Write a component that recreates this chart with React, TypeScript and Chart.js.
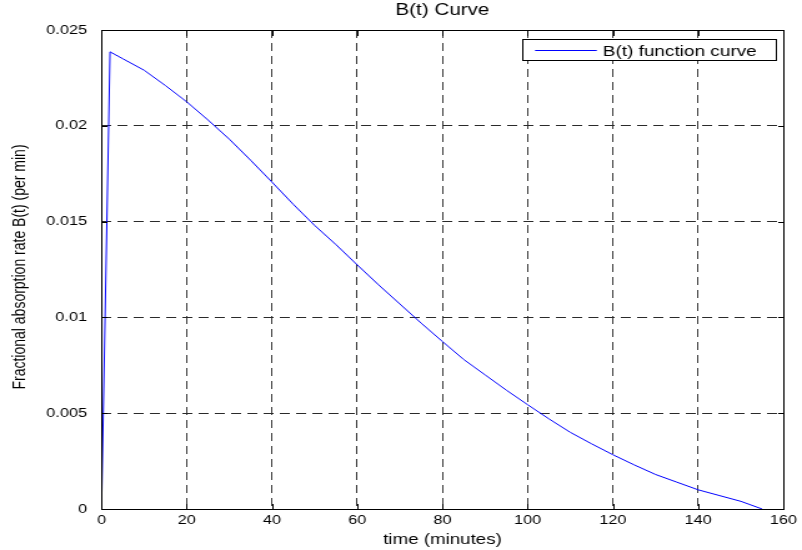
import { useEffect, useRef } from "react";
import { Chart, registerables } from "chart.js";

Chart.register(...registerables);

// ---- data ----
const timeMinutes = [0, 2, 5, 10, 15, 20, 25, 30, 35, 40, 45, 50, 55, 60, 65, 70, 75, 80, 85, 90, 95, 100, 105, 110, 115, 120, 125, 130, 135, 140, 145, 150, 155];
const absorptionRate = [0, 0.02386, 0.0235, 0.0229, 0.0221, 0.02125, 0.0203, 0.0193, 0.0182, 0.01706, 0.0159, 0.0148, 0.0138, 0.01274, 0.0117, 0.0107, 0.0097, 0.00874, 0.0078, 0.007, 0.0062, 0.00544, 0.0047, 0.004, 0.0034, 0.00283, 0.0023, 0.0018, 0.0014, 0.001, 0.0007, 0.0004, 0];
const xTickValues = [0, 20, 40, 60, 80, 100, 120, 140, 160];
const yTickValues = [0, 0.005, 0.01, 0.015, 0.02, 0.025];
const yTickLabels = ["0", "0.005", "0.01", "0.015", "0.02", "0.025"];
const titleText = "B(t) Curve";
const xAxisLabel = "time (minutes)";
const yAxisLabel = "Fractional absorption rate B(t) (per min)";
const legendLabel = "B(t) function curve";

// internal canvas is narrower and stretched horizontally by CSS
const CSS_W = 802;
const CSS_H = 550;
const SX = 1.2492;
const W = Math.round(CSS_W / SX);
const H = CSS_H;
const FONT = '"Liberation Sans", Arial, Helvetica, sans-serif';

const decorPlugin = {
  id: "matlabDecor",
  afterDraw(chart: any) {
    const ctx: CanvasRenderingContext2D = chart.ctx;
    const area = chart.chartArea;
    const xs = chart.scales.x;
    const ys = chart.scales.y;
    const L = Math.round(area.left);
    const R = Math.round(area.right);
    const T = Math.round(area.top);
    const B = Math.round(area.bottom);
    ctx.save();
    ctx.fillStyle = "#000000";
    // axes box
    ctx.fillRect(L, T, R - L + 1, 1);
    ctx.fillRect(L, B, R - L + 1, 1);
    ctx.fillRect(L, T, 1, B - T + 1);
    ctx.fillRect(R, T, 1, B - T + 1);
    // inward ticks on all sides
    xTickValues.forEach((v) => {
      const px = Math.round(xs.getPixelForValue(v));
      ctx.fillRect(px, B - 5, 1, 5);
      ctx.fillRect(px, T, 1, 6);
    });
    yTickValues.forEach((v) => {
      const py = Math.round(ys.getPixelForValue(v));
      ctx.fillRect(L, py, 5, 1);
      ctx.fillRect(R - 4, py, 5, 1);
    });

    // title
    ctx.textAlign = "center";
    ctx.textBaseline = "alphabetic";
    ctx.font = `16.5px ${FONT}`;
    ctx.fillText(titleText, (area.left + area.right) / 2, 14.5);
    // x label
    ctx.font = `15px ${FONT}`;
    ctx.fillText(xAxisLabel, (area.left + area.right) / 2, 544);
    // y label
    ctx.save();
    ctx.translate(20, 267);
    ctx.rotate(-Math.PI / 2);
    ctx.font = `14px ${FONT}`;
    ctx.fillText(yAxisLabel, 0, 0);
    ctx.restore();

    // legend
    const lx = 418;
    const ly = 39;
    const lw = 204;
    const lh = 22;
    ctx.fillStyle = "#ffffff";
    ctx.fillRect(lx, ly, lw, lh);
    ctx.fillStyle = "#000000";
    ctx.fillRect(lx, ly, lw, 1);
    ctx.fillRect(lx, ly + lh - 1, lw, 1);
    ctx.fillRect(lx, ly, 1, lh);
    ctx.fillRect(lx + lw - 1, ly, 1, lh);
    ctx.fillStyle = "#0000ff";
    ctx.fillRect(428.3, 50, 49.4, 1);
    ctx.fillStyle = "#000000";
    ctx.textAlign = "left";
    ctx.font = `15.2px ${FONT}`;
    ctx.fillText(legendLabel, 482.5, 55.5);
    ctx.restore();
  },
};

export default function App() {
  const canvasRef = useRef<HTMLCanvasElement | null>(null);

  useEffect(() => {
    document.body.style.margin = "0";
    const canvas = canvasRef.current;
    if (!canvas) return;
    const chart = new Chart(canvas, {
      type: "line",
      data: {
        datasets: [
          {
            label: legendLabel,
            data: timeMinutes.map((t, i) => ({ x: t, y: absorptionRate[i] })),
            borderColor: "#0000ff",
            borderWidth: 1,
            pointRadius: 0,
            tension: 0,
            fill: false,
          },
        ],
      },
      options: {
        responsive: false,
        devicePixelRatio: 1,
        animation: false,
        layout: { padding: { left: 0, right: 14, top: 30, bottom: 0 } },
        plugins: {
          legend: { display: false },
          title: { display: false },
          tooltip: { enabled: false },
        },
        scales: {
          x: {
            type: "linear",
            min: 0,
            max: 160,
            afterBuildTicks: (s: any) => {
              s.ticks = xTickValues.map((v) => ({ value: v }));
            },
            afterFit: (s: any) => {
              s.height = 41;
            },
            ticks: {
              autoSkip: false,
              maxRotation: 0,
              padding: 4,
              color: "#000",
              font: { family: FONT, size: 13 },
              callback: (v: any) => String(v),
            },
            grid: { color: "#3a3a3a", lineWidth: 1, drawTicks: false },
            border: { display: false, dash: [8, 5] },
          },
          y: {
            type: "linear",
            min: 0,
            max: 0.025,
            afterBuildTicks: (s: any) => {
              s.ticks = yTickValues.map((v) => ({ value: v }));
            },
            afterFit: (s: any) => {
              s.width = 81.25;
            },
            ticks: {
              autoSkip: false,
              padding: 11.6,
              color: "#000",
              font: { family: FONT, size: 13 },
              callback: (_v: any, i: number) => yTickLabels[i],
            },
            grid: { color: "#2a2a2a", lineWidth: 1, drawTicks: false },
            border: { display: false, dash: [8, 5] },
          },
        },
      } as any,
      plugins: [decorPlugin],
    });
    return () => chart.destroy();
  }, []);

  return (
    <div style={{ width: CSS_W, height: CSS_H, background: "#fff" }}>
      <canvas
        ref={canvasRef}
        width={W}
        height={H}
        style={{ width: `${CSS_W}px`, height: `${CSS_H}px`, display: "block" }}
      />
    </div>
  );
}
